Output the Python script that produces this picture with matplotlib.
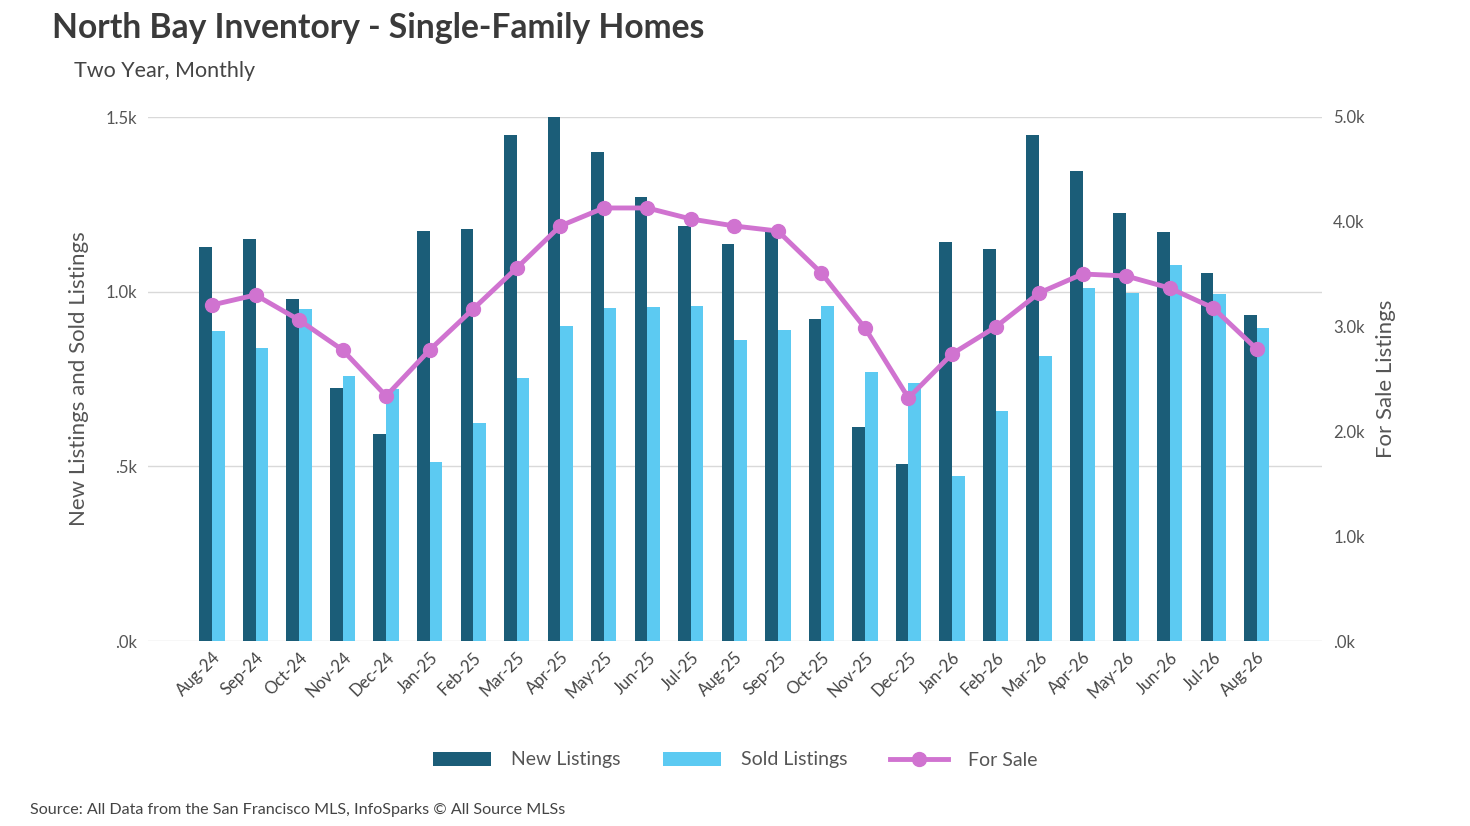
import matplotlib
matplotlib.use("Agg")
import matplotlib.pyplot as plt
import numpy as np
from matplotlib.ticker import FuncFormatter

plt.rcParams['font.family'] = ['Lato', 'DejaVu Sans']

months = ["Aug-24","Sep-24","Oct-24","Nov-24","Dec-24","Jan-25","Feb-25","Mar-25","Apr-25","May-25",
          "Jun-25","Jul-25","Aug-25","Sep-25","Oct-25","Nov-25","Dec-25","Jan-26","Feb-26","Mar-26",
          "Apr-26","May-26","Jun-26","Jul-26","Aug-26"]
new_listings = [1128,1151,979,724,593,1174,1179,1449,1500,1400,1271,1188,1136,1174,922,613,507,
                1142,1122,1449,1345,1225,1171,1053,933]
sold_listings = [887,839,950,759,720,512,624,753,902,953,956,959,862,890,959,770,739,
                 472,658,816,1010,996,1076,993,896]
for_sale = [3206,3302,3063,2777,2338,2777,3168,3559,3960,4132,4132,4027,3960,3912,3511,2987,2319,
            2739,2996,3321,3502,3483,3368,3178,2786]

dark = "#1b5d78"; light = "#5ccaf2"; pink = "#d073d0"

fig = plt.figure(figsize=(14.7, 8.26), dpi=100)
ax = fig.add_axes([148/1470, 1-641/826, (1322-148)/1470, (641-117)/826])
x = np.arange(len(months))
w = 0.29
ax.bar(x - w/2, new_listings, w, color=dark, label="New Listings", zorder=2)
ax.bar(x + w/2, sold_listings, w, color=light, label="Sold Listings", zorder=2)
ax.set_ylim(0, 1500)
ax.set_xlim(-1.47, 25.5)
ax.set_yticks([0, 500, 1000, 1500])
ax.yaxis.set_major_formatter(FuncFormatter(lambda v, p: {0: ".0k", 500: ".5k", 1000: "1.0k", 1500: "1.5k"}[int(v)]))
ax.grid(axis='y', color="#d9d9d9", lw=1, zorder=0)
ax.set_xticks(x)
ax.set_xticklabels(months, rotation=45, ha='right', rotation_mode='anchor', fontsize=12, color="#444444")
ax.tick_params(axis='y', length=0, labelsize=12, labelcolor="#555555", pad=8)
ax.tick_params(axis='x', length=0, pad=6)
for s in ax.spines.values():
    s.set_visible(False)
ax.set_ylabel("New Listings and Sold Listings", fontsize=16, color="#555555", labelpad=12)

ax2 = ax.twinx()
ax2.plot(x, for_sale, color=pink, lw=3.5, marker='o', ms=10, label="For Sale", zorder=3)
ax2.set_ylim(0, 5000)
ax2.set_yticks([0, 1000, 2000, 3000, 4000, 5000])
ax2.yaxis.set_major_formatter(FuncFormatter(lambda v, p: ".0k" if v == 0 else f"{v/1000:.1f}k"))
ax2.tick_params(axis='y', length=0, labelsize=12, labelcolor="#555555", pad=8)
for s in ax2.spines.values():
    s.set_visible(False)
ax2.set_ylabel("For Sale Listings", fontsize=16, color="#555555", labelpad=8)

fig.text(52/1470, 1-28/826, "North Bay Inventory - Single-Family Homes", fontsize=24.2, weight='bold',
         color="#3a3a3a", va='center')
fig.text(74/1470, 1-71/826, "Two Year, Monthly", fontsize=15.5, color="#444444", va='center')
fig.text(30/1470, 1-810/826, "Source: All Data from the San Francisco MLS, InfoSparks © All Source MLSs",
         fontsize=11.6, color="#444444", va='center')

h1, l1 = ax.get_legend_handles_labels()
h2, l2 = ax2.get_legend_handles_labels()
fig.legend(h1 + h2, l1 + l2, loc='center', bbox_to_anchor=(735/1470, 1-760/826), ncol=3,
           frameon=False, fontsize=14, labelcolor="#555555", handlelength=3, columnspacing=2.2,
           handletextpad=1.0)

fig.savefig("out.png", dpi=100)
